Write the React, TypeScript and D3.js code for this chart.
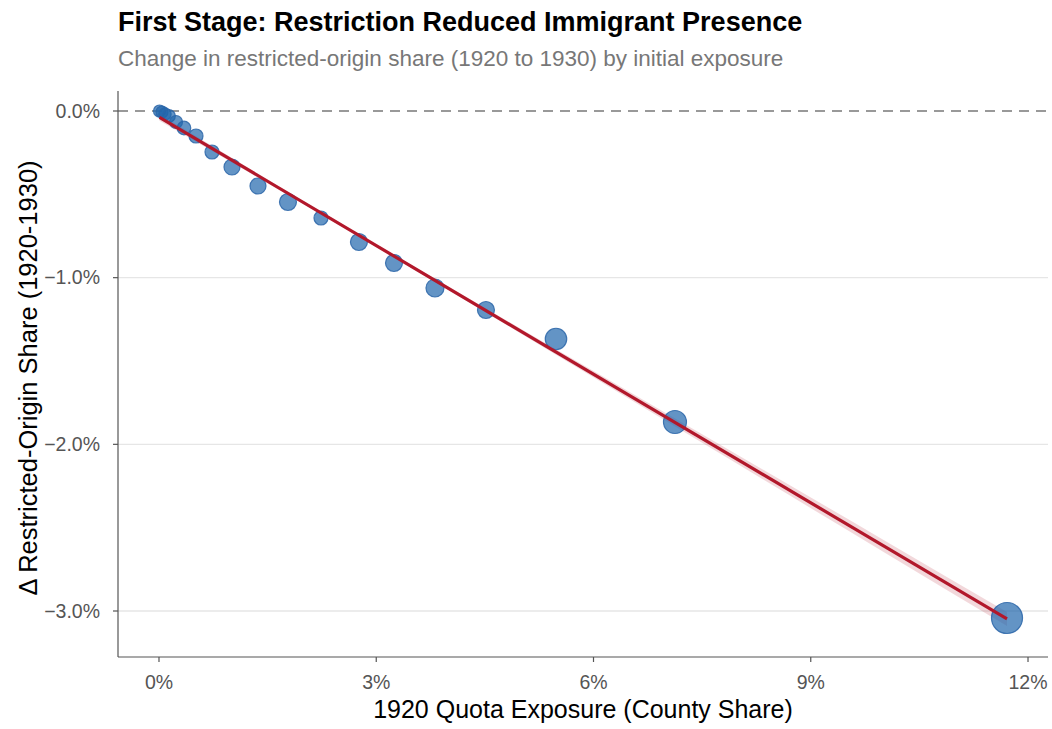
import React from "react";
import * as d3 from "d3";

// Binned scatter: 1920 quota exposure (%) vs change in restricted-origin share (pp)
const exposure = [0.007, 0.041, 0.083, 0.138, 0.235, 0.345, 0.511, 0.732, 1.008, 1.367, 1.781, 2.237, 2.761, 3.245, 3.811, 4.515, 5.482, 7.125, 11.71];
const deltaShare = [0.0, -0.006, -0.018, -0.03, -0.066, -0.102, -0.15, -0.246, -0.336, -0.45, -0.546, -0.642, -0.786, -0.912, -1.062, -1.194, -1.368, -1.866, -3.042];
const binWeight = [36, 36, 38, 40, 42, 46, 49, 49, 64, 64, 72, 49, 72, 72, 81, 72, 115, 132, 240];

// Linear fit and confidence band half-width
const fitIntercept = -0.036;
const fitSlope = -0.2572;
const ciX = [0.007, 2.5, 5, 7.5, 10, 11.71];
const ciHalf = [0.02, 0.008, 0.014, 0.026, 0.036, 0.042];

const xTicks = [0, 3, 6, 9, 12];
const yTicks = [0, -1, -2, -3];

const W = 1052, H = 729;
const L = 118, R = 1048, T = 91, B = 657;
const FONT = "'Liberation Sans', Arial, Helvetica, sans-serif";

export default function App() {
  const x = d3.scaleLinear().domain([-0.566, 12.276]).range([L, R]);
  const y = d3.scaleLinear().domain([0.12, -3.276]).range([T, B]);
  const r = d3.scaleSqrt().domain([0, 240]).range([0, 15.5]);

  const x0 = exposure[0], x1 = exposure[exposure.length - 1];
  const fit = (v: number) => fitIntercept + fitSlope * v;
  const band = d3.area<number>()
    .x((_, i) => x(ciX[i]))
    .y0((_, i) => y(fit(ciX[i]) - ciHalf[i]))
    .y1((_, i) => y(fit(ciX[i]) + ciHalf[i]))
    .curve(d3.curveMonotoneX);
  const line = d3.line<number>().x((v) => x(v)).y((v) => y(fit(v)));

  const order = d3.range(exposure.length);

  return (
    <svg width={W} height={H} style={{ position: "fixed", left: 0, top: 0, background: "#fff" }} fontFamily={FONT}>
      <rect width={W} height={H} fill="#fff" />
      <text x={118} y={31} fontSize={27} fontWeight="bold" fill="#000">First Stage: Restriction Reduced Immigrant Presence</text>
      <text x={118} y={66} fontSize={22.5} fill="#777">Change in restricted-origin share (1920 to 1930) by initial exposure</text>

      {yTicks.filter((t) => t !== 0).map((t) => (
        <line key={t} x1={L} x2={R} y1={y(t)} y2={y(t)} stroke="#e6e6e6" strokeWidth={1.4} />
      ))}
      <line x1={L} x2={R} y1={y(0)} y2={y(0)} stroke="#999" strokeWidth={2} strokeDasharray="10,7" />

      <path d={band(ciX) || ""} fill="#b2182b" fillOpacity={0.17} />

      {order.map((i) => (
        <circle key={i} cx={x(exposure[i])} cy={y(deltaShare[i])} r={r(binWeight[i])}
          fill="#2166ac" fillOpacity={0.7} stroke="#2a65a8" strokeOpacity={0.85} strokeWidth={1.2} />
      ))}

      <path d={line([x0, x1]) || ""} stroke="#b2182b" strokeWidth={3.2} fill="none" strokeLinecap="butt" />

      <line x1={L} x2={L} y1={T} y2={B} stroke="#555" strokeWidth={1.2} />
      <line x1={L} x2={R} y1={B} y2={B} stroke="#555" strokeWidth={1.2} />

      {yTicks.map((t) => (
        <g key={t}>
          <line x1={L - 5} x2={L} y1={y(t)} y2={y(t)} stroke="#555" strokeWidth={1.2} />
          <text x={100} y={y(t)} dy="0.35em" textAnchor="end" fontSize={19.5} fill="#555">{d3.format(".1f")(t) + "%"}</text>
        </g>
      ))}
      {xTicks.map((t) => (
        <g key={t}>
          <line x1={x(t)} x2={x(t)} y1={B} y2={B + 5} stroke="#555" strokeWidth={1.2} />
          <text x={x(t)} y={689} textAnchor="middle" fontSize={19.5} fill="#555">{t + "%"}</text>
        </g>
      ))}

      <text x={(L + R) / 2} y={718} textAnchor="middle" fontSize={25} fill="#000">1920 Quota Exposure (County Share)</text>
      <text transform={`translate(37,378) rotate(-90)`} textAnchor="middle" fontSize={25.5} fill="#000">Δ Restricted-Origin Share (1920-1930)</text>
    </svg>
  );
}
